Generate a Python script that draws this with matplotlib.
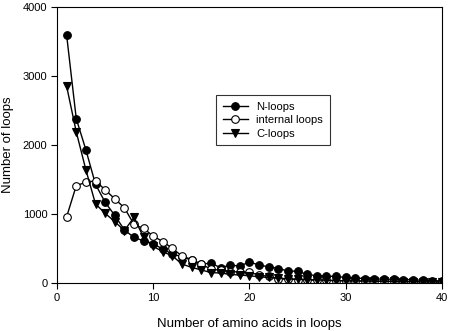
import matplotlib
matplotlib.use('Agg')
import matplotlib.pyplot as plt
import numpy as np

plt.rcParams['font.family'] = ['Liberation Sans', 'DejaVu Sans']

# loop length (amino acids)
loop_len = list(range(1, 41))

n_loops = [3590, 2380, 1930, 1430, 1170, 980, 770, 660, 610, 570,
           490, 420, 380, 330, 270, 290, 220, 260, 245, 305,
           260, 235, 210, 175, 170, 125, 105, 100, 95, 80,
           70, 65, 60, 55, 55, 50, 45, 40, 35, 30]
internal_loops = [960, 1410, 1460, 1480, 1350, 1220, 1090, 850, 790, 680,
                  600, 500, 390, 340, 275, 200, 185, 165, 160, 155,
                  115, 95, 60, 55, 50, 45, 40, 38, 35, 32,
                  30, 28, 26, 25, 24, 22, 20, 20, 18, 15]
c_loops = [2850, 2190, 1640, 1145, 1010, 890, 760, 950, 660, 530,
           455, 390, 275, 225, 190, 150, 145, 125, 115, 105,
           90, 80, 70, 60, 55, 50, 45, 40, 35, 32,
           30, 28, 26, 24, 22, 20, 18, 16, 15, 14]

fig = plt.figure(figsize=(4.49, 3.31), dpi=100)
ax = fig.add_axes([0.127, 0.145, 0.857, 0.834])

style = dict(color='black', linewidth=1.0, markersize=5.5, markeredgewidth=0.8)
ax.plot(loop_len, n_loops, marker='o', markerfacecolor='black', label='N-loops', **style)
ax.plot(loop_len, internal_loops, marker='o', markerfacecolor='white', label='internal loops', **style)
ax.plot(loop_len, c_loops, marker='v', markerfacecolor='black', label='C-loops', **style)

ax.set_xlim(0, 40)
ax.set_ylim(0, 4000)
ax.set_xticks([0, 10, 20, 30, 40])
ax.set_yticks([0, 1000, 2000, 3000, 4000])
ax.tick_params(direction='out', length=4, width=0.8, labelsize=8, pad=3)
for s in ax.spines.values():
    s.set_linewidth(0.8)

ax.set_xlabel('Number of amino acids in loops', fontsize=9.5, labelpad=11)
ax.set_ylabel('Number of loops', fontsize=9.5, labelpad=6)

leg = ax.legend(loc='upper left', bbox_to_anchor=(0.40, 0.70), fontsize=8,
                frameon=True, fancybox=False, edgecolor='black',
                handlelength=2.2, borderpad=0.6, labelspacing=0.3)
leg.get_frame().set_linewidth(0.8)

fig.savefig('out.png', dpi=100)
